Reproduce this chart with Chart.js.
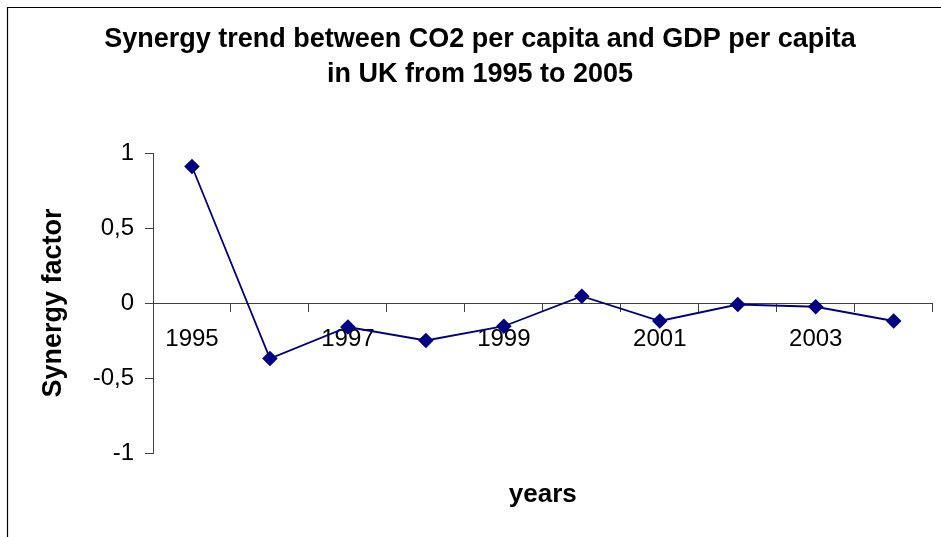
<!DOCTYPE html>
<html>
<head>
<meta charset="utf-8">
<script src="https://cdn.jsdelivr.net/npm/chart.js@4"></script>
<style>
  html, body { margin: 0; padding: 0; background: #fff; }
  #wrap { width: 941px; height: 537px; }
</style>
</head>
<body>
<div id="wrap"><canvas id="grafica"></canvas></div>
<script>
// synergy factor per year, UK
const years = ['1995', '1996', '1997', '1998', '1999', '2000', '2001', '2002', '2003', '2004'];
const synergy = [0.91, -0.37, -0.16, -0.25, -0.155, 0.045, -0.12, -0.01, -0.025, -0.12];
const titleLines = ['Synergy trend between CO2 per capita and GDP per capita', 'in UK from 1995 to 2005'];

const fam = '"Liberation Sans", Arial, sans-serif';
const azul = '#000080';
const ejes = '#404040';

// frame lines on the left and top of the chart
const marco = {
  id: 'marco',
  beforeDraw(chart) {
    const ctx = chart.ctx;
    ctx.save();
    ctx.fillStyle = '#fff';
    ctx.fillRect(0, 0, chart.width, chart.height);
    ctx.strokeStyle = '#000';
    ctx.lineWidth = 1.2;
    ctx.beginPath();
    ctx.moveTo(7.5, chart.height);
    ctx.lineTo(7.5, 7.5);
    ctx.lineTo(chart.width, 7.5);
    ctx.stroke();
    ctx.restore();
  }
};

new Chart(document.getElementById('grafica'), {
  type: 'line',
  data: {
    labels: years,
    datasets: [{
      label: 'Synergy factor',
      data: synergy,
      borderColor: azul,
      backgroundColor: azul,
      borderWidth: 1.8,
      pointStyle: 'rectRot',
      pointRadius: 6.5,
      pointBackgroundColor: azul,
      pointBorderColor: azul,
      tension: 0
    }]
  },
  options: {
    responsive: true,
    maintainAspectRatio: false,
    animation: false,
    layout: { padding: { left: 25, right: 6, top: 0, bottom: 0 } },
    plugins: {
      legend: { display: false },
      tooltip: { enabled: false },
      title: {
        display: true,
        text: titleLines,
        color: '#000',
        font: { family: fam, size: 27, weight: 'bold', lineHeight: 35 / 27 },
        padding: { top: 22, bottom: 61 }
      },
      subtitle: {
        display: true,
        position: 'bottom',
        fullSize: false,
        text: 'years',
        color: '#000',
        font: { family: fam, size: 26, weight: 'bold', lineHeight: 1.2 },
        padding: { top: 26.4, bottom: 26.4 }
      }
    },
    scales: {
      x: {
        type: 'category',
        position: { y: 0 },
        offset: true,
        grid: {
          drawOnChartArea: false,
          offset: true,
          tickLength: 8,
          color: ejes
        },
        border: { color: ejes, width: 1 },
        ticks: {
          autoSkip: false,
          maxRotation: 0,
          padding: 14,
          color: '#000',
          font: { family: fam, size: 24 },
          callback: function (val, i) {
            return i % 2 === 0 ? this.getLabelForValue(val) : '';
          }
        }
      },
      y: {
        min: -1,
        max: 1,
        afterFit: (s) => { s.width = 128; },
        grid: {
          drawOnChartArea: false,
          tickLength: 8,
          color: ejes
        },
        border: { color: ejes, width: 1 },
        ticks: {
          stepSize: 0.5,
          padding: 11,
          color: '#000',
          font: { family: fam, size: 24 },
          callback: (v) => String(v).replace('.', ',')
        },
        title: {
          display: true,
          text: 'Synergy factor',
          color: '#000',
          font: { family: fam, size: 27, weight: 'bold', lineHeight: 1.2 },
          padding: { top: 12.8, bottom: 0 }
        }
      }
    }
  },
  plugins: [marco]
});
</script>
</body>
</html>
